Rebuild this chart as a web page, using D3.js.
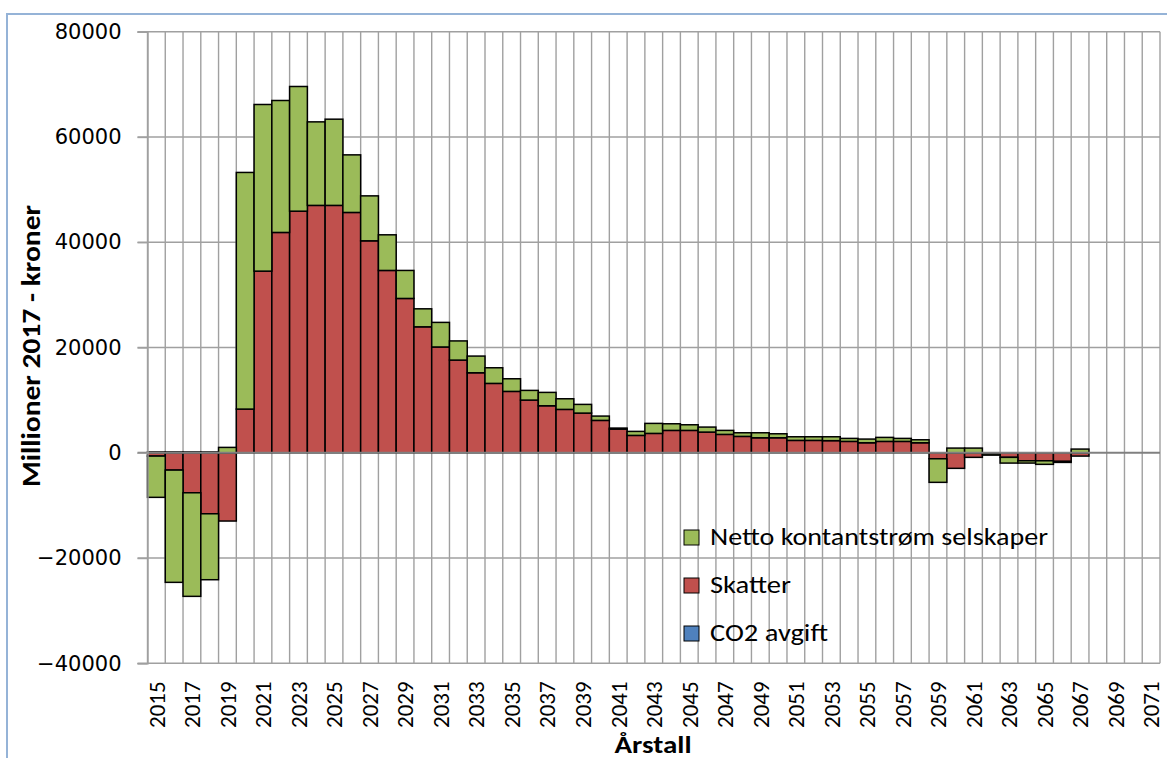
<!DOCTYPE html>
<html>
<head>
<meta charset="utf-8">
<script src="https://cdn.jsdelivr.net/npm/d3@7"></script>
<style>
  html, body { margin: 0; padding: 0; background: #fff; }
  svg { display: block; }
  .lbl { font-family: Carlito, "Open Sans", sans-serif; fill: #000; }
</style>
</head>
<body>
<svg id="chart" width="1167" height="758"></svg>
<script>
// Years on the category axis
const years = d3.range(2015, 2072);

// Skatter (million 2017-NOK)
const skatter = [
  -630, -3290, -7600, -11590, -12970, 8300, 34510, 41860, 45900, 47000,
  47000, 45660, 40270, 34640, 29320, 23930, 20100, 17610, 15200, 13180,
  11660, 10010, 8930, 8240, 7540, 6150, 4500, 3300, 3680, 4250,
  4250, 3930, 3490, 3110, 2850, 2850, 2350, 2350, 2300, 2160,
  1900, 2160, 2160, 1900, -1140, -2960, -870, -150, -870, -1520,
  -1520, -1640, -630, 0, 0, 0, 0
];

// Netto kontantstrøm selskaper (million 2017-NOK)
const netto = [
  -7840, -21330, -19680, -12530, 1020, 44960, 31660, 25070, 23690, 15870,
  16380, 10940, 8540, 6770, 5320, 3420, 4670, 3640, 3170, 2970,
  2400, 1840, 2540, 2020, 1650, 820, 190, 760, 1900, 1260,
  1070, 950, 760, 690, 950, 760, 690, 690, 740, 570,
  700, 760, 570, 570, -4480, 890, 890, -300, -1090, -440,
  -680, -190, 700, 0, 0, 0, 0
];

// CO2 avgift (million 2017-NOK)
const co2 = [
  150, 150, 150, 150, 0, 0, 0, 0, 0, 0,
  0, 0, 0, 0, 0, 0, 0, 0, 0, 0,
  0, 0, 0, 0, 0, 0, 0, 0, 0, 0,
  0, 0, 0, 0, 0, 0, 0, 0, 0, 0,
  0, 0, 0, 0, 0, 0, 0, 0, 0, 0,
  0, 0, 0, 0, 0, 0, 0
];

const yTicks = [-40000, -20000, 0, 20000, 40000, 60000, 80000];
const xTickYears = years.filter(y => (y - 2015) % 2 === 0);

// Series in stacking order (bottom first); legend lists them top first
const seriesKeys = ["co2", "skatter", "netto"];
const seriesNames = { netto: "Netto kontantstrøm selskaper", skatter: "Skatter", co2: "CO2 avgift" };
const seriesColors = { netto: "#9BBB59", skatter: "#C0504D", co2: "#4F81BD" };
const legendKeys = ["netto", "skatter", "co2"];
const legendWidths = { netto: 338, skatter: 81, co2: 118 };

const rows = years.map((yr, i) => ({ year: yr, skatter: skatter[i], netto: netto[i], co2: co2[i] }));

const svg = d3.select("#chart");

const plot = { left: 147.5, right: 1160, top: 31.7, bottom: 663.3 };

const x = d3.scaleBand().domain(years).range([plot.left, plot.right]).padding(0);
const y = d3.scaleLinear().domain([-40000, 80000]).range([plot.bottom, plot.top]);

// Chart-area frame
svg.append("rect")
  .attr("x", 7).attr("y", 14)
  .attr("width", 1170).attr("height", 760)
  .attr("fill", "none")
  .attr("stroke", "#95B3D7")
  .attr("stroke-width", 2);

const grid = svg.append("g");

// Vertical gridlines at every category boundary
const boundaries = years.map(yr => x(yr)).concat([x(years[years.length - 1]) + x.bandwidth()]);
grid.selectAll("line.v").data(boundaries).enter().append("line")
  .attr("class", "v")
  .attr("x1", d => d).attr("x2", d => d)
  .attr("y1", plot.top).attr("y2", plot.bottom)
  .attr("stroke", "#A0A0A0").attr("stroke-width", 1.4);

// Horizontal gridlines with left tick marks
grid.selectAll("line.h").data(yTicks.filter(t => t !== 0)).enter().append("line")
  .attr("class", "h")
  .attr("x1", plot.left - 10).attr("x2", plot.right)
  .attr("y1", d => y(d)).attr("y2", d => y(d))
  .attr("stroke", "#A0A0A0").attr("stroke-width", 1.4);

// Stacked bars
const stack = d3.stack().keys(seriesKeys).offset(d3.stackOffsetDiverging);
const stacked = stack(rows);

const barLayer = svg.append("g");
stacked.forEach(layer => {
  barLayer.append("g")
    .selectAll("rect")
    .data(layer.filter(d => d[0] !== d[1]))
    .enter().append("rect")
    .attr("x", d => x(d.data.year))
    .attr("width", x.bandwidth())
    .attr("y", d => y(Math.max(d[0], d[1])))
    .attr("height", d => Math.abs(y(d[0]) - y(d[1])))
    .attr("fill", seriesColors[layer.key])
    .attr("stroke", "#000")
    .attr("stroke-width", 1.5);
});

// Zero line
svg.append("line")
  .attr("x1", plot.left - 10).attr("x2", plot.right)
  .attr("y1", y(0)).attr("y2", y(0))
  .attr("stroke", "#808080").attr("stroke-width", 2);

// Y axis
const yAxis = svg.append("g")
  .attr("transform", `translate(${plot.left},0)`)
  .call(d3.axisLeft(y).tickValues(yTicks).tickFormat(d3.format("d")).tickSize(10).tickPadding(16));
yAxis.select(".domain").attr("stroke", "#A0A0A0").attr("stroke-width", 1.4);
yAxis.selectAll(".tick line").attr("stroke", "#A0A0A0").attr("stroke-width", 1.4);
yAxis.selectAll(".tick text")
  .attr("font-family", "'DejaVu Sans', sans-serif")
  .attr("font-size", 21)
  .attr("fill", "#000");

// X axis labels (every second year, rotated)
const xAxis = svg.append("g")
  .attr("transform", `translate(0,${plot.bottom})`)
  .call(d3.axisBottom(x).tickValues(xTickYears).tickSize(0));
xAxis.select(".domain").remove();
xAxis.selectAll(".tick text")
  .attr("class", "lbl")
  .attr("font-size", 23)
  .attr("transform", "rotate(-90)")
  .attr("text-anchor", "end")
  .attr("x", -18)
  .attr("y", 0)
  .attr("dy", "0.36em");

// Axis titles
svg.append("text")
  .attr("class", "lbl")
  .attr("transform", `translate(40,${346}) rotate(-90)`)
  .attr("text-anchor", "middle")
  .attr("font-size", 27)
  .attr("font-weight", "bold")
  .attr("textLength", 282)
  .attr("lengthAdjust", "spacingAndGlyphs")
  .text("Millioner 2017 - kroner");

svg.append("text")
  .attr("class", "lbl")
  .attr("x", 653).attr("y", 753)
  .attr("text-anchor", "middle")
  .attr("font-size", 24)
  .attr("font-weight", "bold")
  .attr("textLength", 77)
  .attr("lengthAdjust", "spacingAndGlyphs")
  .text("Årstall");

// Legend
const legend = svg.append("g").attr("transform", "translate(684,530)");
const item = legend.selectAll("g").data(legendKeys).enter().append("g")
  .attr("transform", (d, i) => `translate(0,${i * 48})`);
item.append("rect")
  .attr("width", 15).attr("height", 15)
  .attr("fill", d => seriesColors[d])
  .attr("stroke", "#000").attr("stroke-width", 1);
item.append("text")
  .attr("class", "lbl")
  .attr("x", 26).attr("y", 15)
  .attr("font-size", 25)
  .attr("textLength", d => legendWidths[d])
  .attr("lengthAdjust", "spacingAndGlyphs")
  .text(d => seriesNames[d]);
</script>
</body>
</html>
